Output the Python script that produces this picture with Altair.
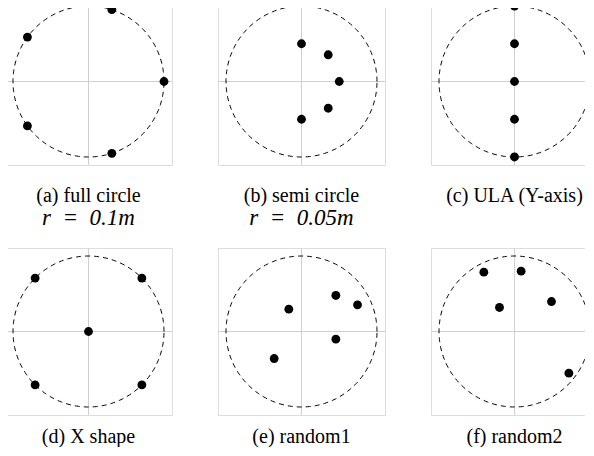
import altair as alt
import numpy as np
import pandas as pd

# Panel captions
captions = ["(a) full circle", "(b) semi circle", "(c) ULA (Y-axis)",
            "(d) X shape", "(e) random1", "(f) random2"]
subcaptions = ["r\u2002=\u20020.1m", "r\u2002=\u20020.05m", "", "", "", ""]

# Microphone positions (normalised to the dashed circle radius)
x_full = [1.0, 0.309, -0.809, -0.809, 0.309]
y_full = [0.0, 0.951, 0.588, -0.588, -0.951]

x_semi = [0.0, 0.354, 0.5, 0.354, 0.0]
y_semi = [0.5, 0.354, 0.0, -0.354, -0.5]

x_ula = [0.0, 0.0, 0.0, 0.0, 0.0]
y_ula = [1.0, 0.5, 0.0, -0.5, -1.0]

x_xshape = [-0.707, 0.707, 0.0, -0.707, 0.707]
y_xshape = [0.707, 0.707, 0.0, -0.707, -0.707]

x_rand1 = [-0.168, 0.455, 0.742, 0.455, -0.362]
y_rand1 = [0.296, 0.477, 0.353, -0.102, -0.358]

x_rand2 = [-0.406, 0.088, -0.199, 0.49, 0.72]
y_rand2 = [0.786, 0.799, 0.318, 0.397, -0.552]

xs = [x_full, x_semi, x_ula, x_xshape, x_rand1, x_rand2]
ys = [y_full, y_semi, y_ula, y_xshape, y_rand1, y_rand2]

D = 1.106
PANEL = 167
SERIF = "Liberation Serif, Times New Roman, serif"

# Guide circle of unit radius
theta = np.linspace(0, 2 * np.pi, 241)
circle_df = pd.DataFrame({"i": np.arange(len(theta)), "x": np.cos(theta), "y": np.sin(theta)})

scale = alt.Scale(domain=[-D, D], nice=False, zero=False)


def panel(k, offset):
    X = lambda f: alt.X(f, type="quantitative", scale=scale, axis=None)
    Y = lambda f: alt.Y(f, type="quantitative", scale=scale, axis=None)
    zero_df = pd.DataFrame({"v": [0.0]})
    vline = alt.Chart(zero_df).mark_rule(color="#cfcfcf", strokeWidth=1).encode(x=X("v"))
    hline = alt.Chart(zero_df).mark_rule(color="#cfcfcf", strokeWidth=1).encode(y=Y("v"))
    circ = alt.Chart(circle_df).mark_line(color="black", strokeWidth=1, strokeDash=[5, 4]).encode(
        x=X("x"), y=Y("y"), order="i:Q")
    pts = pd.DataFrame({"x": xs[k], "y": ys[k]})
    dots = alt.Chart(pts).mark_circle(size=78, color="black", opacity=1).encode(x=X("x"), y=Y("y"))
    tkw = dict(text=captions[k], orient="bottom", anchor="middle", font=SERIF,
               fontSize=20, fontWeight="normal", color="black", offset=offset)
    if subcaptions[k]:
        tkw.update(subtitle=subcaptions[k], subtitleFont=SERIF, subtitleFontSize=23,
                   subtitleFontStyle="italic", subtitleColor="black", subtitlePadding=1)
    return alt.layer(vline, hline, circ, dots).properties(
        width=PANEL, height=PANEL, title=alt.TitleParams(**tkw))


row1 = alt.hconcat(panel(0, 20), panel(1, 20), panel(2, 20), spacing=44)
row2 = alt.hconcat(panel(3, 11), panel(4, 11), panel(5, 11), spacing=44)
chart = alt.vconcat(row1, row2, spacing=17).properties(
    padding={"left": -4, "top": -11, "right": -14, "bottom": 0}
).configure_view(stroke="#a3a3a3", strokeWidth=1.5).configure(background="white")

chart.save("out.html", embed_options={"renderer": "svg", "actions": False})
